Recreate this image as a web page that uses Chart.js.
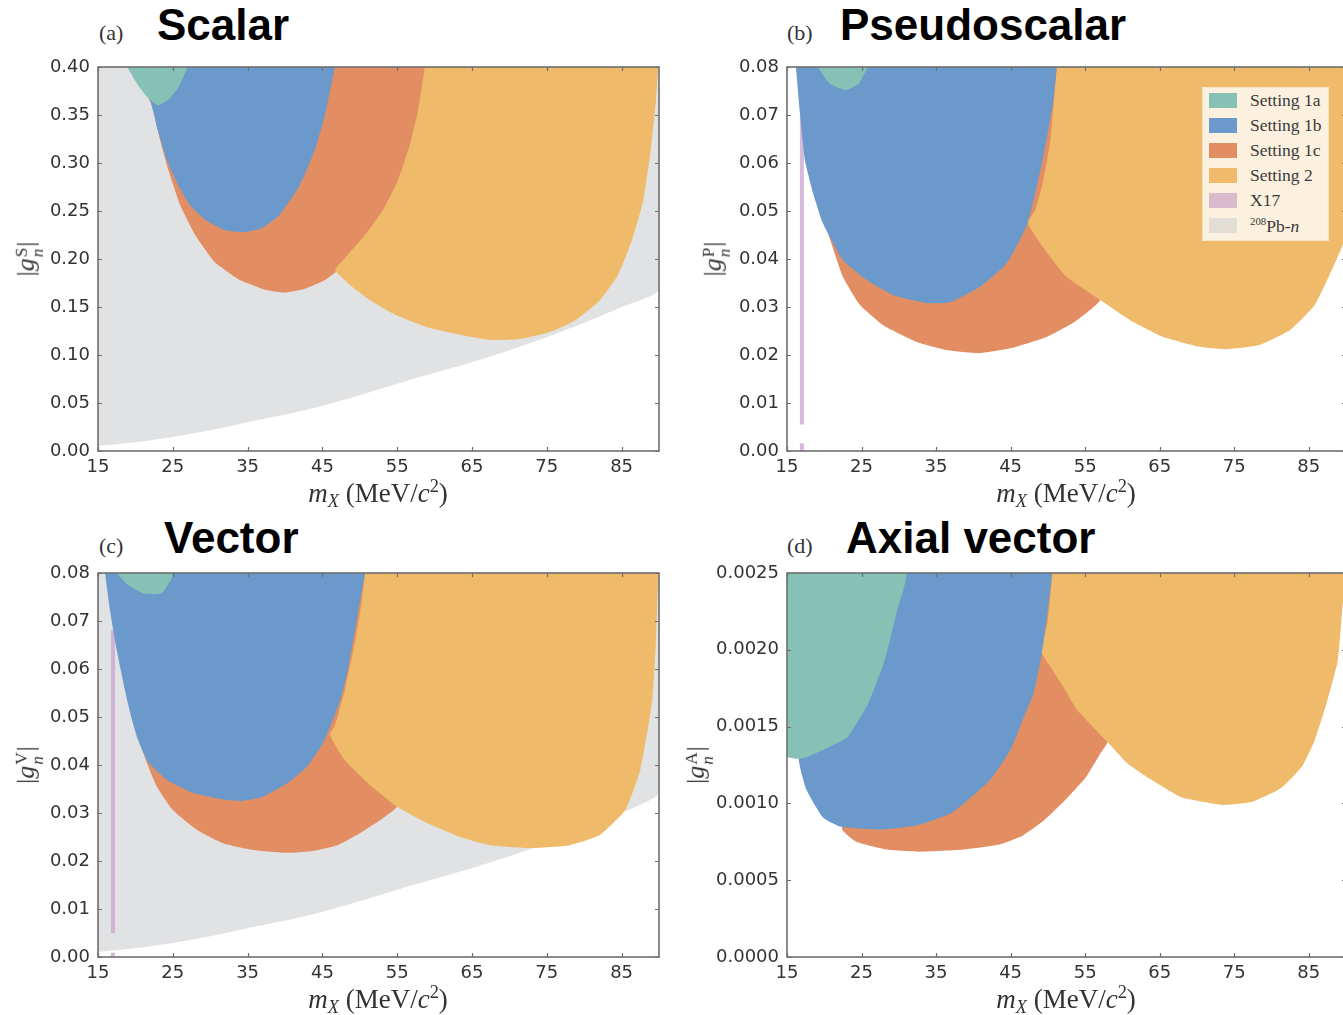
<!DOCTYPE html>
<html><head><meta charset="utf-8">
<script src="https://cdn.jsdelivr.net/npm/chart.js@4"></script>
<style>
html,body{margin:0;padding:0;background:#fff;}
body{width:1343px;height:1015px;overflow:hidden;position:relative;}
.panel{position:absolute;}
.ttl{position:absolute;white-space:nowrap;line-height:50px;}
.ttl .pl{display:inline-block;font-family:"Liberation Serif","DejaVu Serif",serif;font-size:22px;color:#333;}
.ttl .tt{font-family:"Liberation Sans",Arial,sans-serif;font-weight:bold;font-size:44px;color:#000;}
.ytitle{position:absolute;transform:translate(-50%,-50%) rotate(-90deg);font-family:"Liberation Serif",serif;font-size:26px;color:#333;white-space:nowrap;}
.ss{display:inline-flex;flex-direction:column;font-size:0.66em;line-height:0.92;vertical-align:0.42em;margin-left:1px;margin-right:1px;}
.xtitle{position:absolute;transform:translate(-50%,-50%);font-family:"Liberation Serif",serif;font-size:27px;color:#333;white-space:nowrap;}
.xtitle sub{font-size:0.68em;vertical-align:-0.3em;}
.xtitle sup{font-size:0.68em;vertical-align:0.55em;}
#legend{position:absolute;left:1202px;top:87px;width:127px;height:154px;background:#fcf0de;border:1px solid #f4e4c8;box-sizing:border-box;padding-top:0px;}
#legend .row{height:25px;display:flex;align-items:center;font-family:"Liberation Serif",serif;font-size:17.5px;color:#3a3a3a;}
#legend .sw{width:28px;height:15px;margin-left:6px;margin-right:13px;}
#legend sup{font-size:0.62em;vertical-align:0.6em;}
</style>
</head><body>

<div class="ttl" style="left:99px;top:0px;"><span class="pl" style="width:58px">(a)</span><span class="tt">Scalar</span></div>
<div class="ttl" style="left:787px;top:0px;"><span class="pl" style="width:53px">(b)</span><span class="tt">Pseudoscalar</span></div>
<div class="ttl" style="left:99px;top:513px;"><span class="pl" style="width:65px">(c)</span><span class="tt">Vector</span></div>
<div class="ttl" style="left:787px;top:513px;"><span class="pl" style="width:59px">(d)</span><span class="tt">Axial vector</span></div>

<div class="panel" style="left:0;top:55px;"><canvas id="cA" width="680" height="440"></canvas></div>
<div class="panel" style="left:690px;top:55px;"><canvas id="cB" width="700" height="440"></canvas></div>
<div class="panel" style="left:0;top:561px;"><canvas id="cC" width="680" height="440"></canvas></div>
<div class="panel" style="left:690px;top:561px;"><canvas id="cD" width="700" height="440"></canvas></div>

<div class="ytitle" style="left:28px;top:259px;">|<i>g</i><span class="ss"><span>S</span><i>n</i></span>|</div>
<div class="ytitle" style="left:715px;top:259px;">|<i>g</i><span class="ss"><span>P</span><i>n</i></span>|</div>
<div class="ytitle" style="left:28px;top:765px;">|<i>g</i><span class="ss"><span>V</span><i>n</i></span>|</div>
<div class="ytitle" style="left:698px;top:765px;">|<i>g</i><span class="ss"><span>A</span><i>n</i></span>|</div>

<div class="xtitle" style="left:378px;top:494px;"><i>m</i><sub><i>X</i></sub> (MeV/<i>c</i><sup>2</sup>)</div>
<div class="xtitle" style="left:1066px;top:494px;"><i>m</i><sub><i>X</i></sub> (MeV/<i>c</i><sup>2</sup>)</div>
<div class="xtitle" style="left:378px;top:1000px;"><i>m</i><sub><i>X</i></sub> (MeV/<i>c</i><sup>2</sup>)</div>
<div class="xtitle" style="left:1066px;top:1000px;"><i>m</i><sub><i>X</i></sub> (MeV/<i>c</i><sup>2</sup>)</div>

<div id="legend"></div>

<script>
// ---------- tick labels ----------
const xTicks = [15, 25, 35, 45, 55, 65, 75, 85];
const yTicksA = [0, 0.05, 0.10, 0.15, 0.20, 0.25, 0.30, 0.35, 0.40];
const yTicksBC = [0, 0.01, 0.02, 0.03, 0.04, 0.05, 0.06, 0.07, 0.08];
const yTicksD = [0, 0.0005, 0.0010, 0.0015, 0.0020, 0.0025];

// ---------- legend ----------
const legendLabels = ['Setting 1a', 'Setting 1b', 'Setting 1c', 'Setting 2', 'X17', '<sup>208</sup>Pb-<i>n</i>'];
const legendColors = ['#85c1b4', '#6c99cb', '#e28e62', '#efba6a', '#d8bccb', '#e2ddd5'];

// ---------- (a) Scalar : region boundaries [mX, |g|] ----------
const A_pb = [[15,0.005],[20,0.009],[25,0.0145],[30,0.0215],[35,0.030],[40,0.038],[45,0.047],[50,0.058],[55,0.070],[60,0.0815],[65,0.0925],[70,0.105],[75,0.1185],[80,0.1335],[85,0.150],[90,0.168],[90,0.40],[15,0.40]];
const A_1a = [[18.9,0.40],[20.35,0.381],[21.55,0.369],[23.0,0.360],[24.4,0.366],[25.7,0.378],[27.0,0.40]];
const A_1b = [[19.3,0.40],[21.95,0.366],[23.0,0.334],[24.2,0.303],[25.7,0.277],[27.3,0.256],[29.3,0.241],[32.0,0.230],[34.6,0.228],[36.9,0.232],[39.3,0.246],[42.0,0.277],[44.0,0.314],[45.35,0.35],[46.3,0.386],[46.7,0.40]];
const A_1c = [[19.5,0.40],[22.2,0.36],[23.3,0.324],[24.4,0.293],[26.0,0.256],[28.0,0.225],[30.6,0.197],[34.0,0.178],[37.3,0.168],[40.0,0.165],[42.7,0.169],[45.35,0.178],[48.0,0.194],[50.7,0.215],[53.4,0.246],[56.0,0.298],[58.1,0.355],[59.4,0.40]];
const A_2 = [[58.7,0.40],[57.8,0.355],[56.7,0.319],[55.1,0.282],[53.1,0.251],[50.7,0.225],[48.0,0.201],[46.7,0.1885],[48.7,0.173],[51.4,0.157],[54.7,0.142],[59.4,0.128],[64.1,0.120],[67.4,0.1156],[71.4,0.1167],[75.4,0.124],[78.8,0.136],[82.1,0.157],[84.5,0.183],[86.4,0.220],[87.9,0.261],[88.9,0.3135],[89.6,0.366],[89.9,0.40]];

// ---------- (b) Pseudoscalar ----------
const B_1a = [[19.16,0.08],[20.1,0.0777],[20.9,0.0763],[22.9,0.0752],[23.85,0.0758],[24.65,0.0765],[25.86,0.08]];
const B_1b = [[16.2,0.08],[16.74,0.0704],[17.4,0.0606],[18.5,0.0537],[19.8,0.0475],[22.5,0.0398],[25.7,0.0356],[29.2,0.0325],[33.8,0.0308],[36.9,0.031],[40.9,0.0342],[44.5,0.0391],[47.3,0.0475],[49.3,0.0606],[50.7,0.0725],[51.2,0.08]];
const B_1c = [[17.5,0.08],[18.1,0.0606],[19.2,0.0523],[20.8,0.044],[22.5,0.0363],[24.8,0.0304],[27.9,0.0262],[32.4,0.0227],[36.5,0.021],[40.9,0.0204],[45.3,0.0215],[49.9,0.0238],[53.4,0.0267],[56.0,0.0298],[57.0,0.0315],[54.3,0.0398],[52.6,0.0565],[52.0,0.08]];
const B_2 = [[51.2,0.08],[50.9,0.0746],[50.3,0.0642],[49.3,0.0558],[48.3,0.0502],[47.3,0.0475],[49.9,0.0413],[52.5,0.0363],[57.0,0.0315],[61.0,0.0273],[65.4,0.0238],[70.4,0.0217],[73.7,0.0212],[78.4,0.0221],[82.5,0.0252],[85.8,0.0304],[87.8,0.0367],[89.56,0.0429],[90,0.047],[90,0.08]];
const B_x17 = [[17,0.0055],[17,0.0705]];
const B_x17low = [[17,0],[17,0.0016]];

// ---------- (c) Vector ----------
const C_pb = [[15,0.001],[20,0.0018],[25,0.0029],[30,0.0043],[35,0.006],[40,0.0076],[45,0.0094],[50,0.0116],[55,0.014],[60,0.0163],[65,0.0185],[70,0.021],[75,0.0237],[80,0.0267],[85,0.030],[90,0.0342],[90,0.08],[15,0.08]];
const C_1a = [[17.5,0.08],[19.0,0.0775],[21.0,0.0758],[22.9,0.0756],[23.7,0.076],[24.9,0.079],[25.0,0.08]];
const C_1b = [[15.94,0.08],[16.6,0.0723],[17.5,0.064],[18.6,0.0556],[18.9,0.0535],[19.55,0.0494],[20.35,0.0452],[21.7,0.0406],[24.2,0.0369],[27.7,0.0342],[31.3,0.0329],[34.0,0.0325],[36.9,0.0333],[40.3,0.0362],[42.9,0.0396],[45.1,0.0446],[46.4,0.0494],[47.4,0.0535],[48.4,0.0598],[49.6,0.0702],[50.3,0.0765],[50.7,0.08]];
const C_1c = [[16.6,0.08],[17.1,0.0723],[18.2,0.064],[19.3,0.0535],[20.2,0.0467],[21.55,0.0404],[22.9,0.0354],[25.0,0.0306],[28.2,0.0265],[31.7,0.0237],[35.7,0.0223],[40.3,0.0217],[43.7,0.0221],[47.0,0.0233],[50.0,0.0258],[52.7,0.0285],[55.0,0.0313],[56.6,0.0369],[55.5,0.0535],[54.0,0.08]];
const C_2 = [[50.7,0.08],[50.3,0.0744],[49.4,0.066],[48.0,0.0556],[46.7,0.0483],[46.0,0.0463],[48.0,0.041],[51.4,0.0358],[55.0,0.0313],[59.0,0.0279],[63.4,0.025],[67.4,0.0233],[72.8,0.0227],[78.1,0.0233],[82.1,0.0254],[85.5,0.0306],[87.5,0.039],[89.1,0.0535],[89.6,0.066],[89.9,0.08]];
const C_x17 = [[17,0.005],[17,0.068]];
const C_x17low = [[17,0],[17,0.0009]];

// ---------- (d) Axial vector ----------
const D_1a = [[15,0.0025],[30.9,0.0025],[29.8,0.00226],[28.1,0.00193],[25.9,0.00165],[23.1,0.00143],[20.4,0.00136],[17.6,0.0013],[16.2,0.00129],[15,0.0013]];
const D_1b = [[16.5,0.0025],[16.6,0.00128],[17.6,0.00109],[19.8,0.00091],[22.1,0.00085],[27.7,0.00083],[32.7,0.00086],[37.2,0.00094],[42.2,0.00115],[45.0,0.00135],[46.6,0.00154],[48.1,0.00172],[49.2,0.00198],[50.0,0.00226],[50.6,0.0025]];
const D_1c = [[36.0,0.0025],[27.0,0.0016],[22.9,0.00098],[22.4,0.00083],[24.3,0.00075],[28.3,0.0007],[32.7,0.000686],[38.9,0.0007],[43.3,0.00073],[46.6,0.00079],[49.5,0.00089],[52.3,0.00102],[55.1,0.00117],[57.1,0.00133],[58.0,0.0014],[57.1,0.00167],[53.5,0.0020],[53.0,0.0025]];
const D_2 = [[50.6,0.0025],[50.0,0.00219],[49.2,0.00198],[50.6,0.00187],[52.3,0.00174],[53.9,0.00161],[58.0,0.0014],[60.7,0.00126],[64.0,0.00115],[67.9,0.00104],[73.5,0.00099],[77.4,0.00101],[81.3,0.0011],[84.1,0.00124],[85.8,0.00141],[87.5,0.00167],[88.9,0.00193],[89.5,0.00226],[90,0.0025]];

// ---------- styles ----------
const COL = {s1a:'#85c1b4', s1b:'#6c99cb', s1c:'#e28e62', s2:'#efba6a', x17:'rgba(200,160,205,0.72)', pb:'#e1e2e4'};

function region(pts, color){
  return {data: pts.map(p=>({x:p[0], y:p[1]})), showLine:true, fill:'shape', backgroundColor:color,
          borderWidth:0, borderColor:color, pointRadius:0, pointHoverRadius:0, tension:0.15};
}
function vline(pts, color){
  return {data: pts.map(p=>({x:p[0], y:p[1]})), showLine:true, fill:false, borderColor:color,
          borderWidth:4, borderCapStyle:'butt', pointRadius:0, pointHoverRadius:0, tension:0};
}

const framePlugin = {
  id:'frame',
  afterDatasetsDraw(chart){
    const {ctx, chartArea:a, scales:{x, y}} = chart;
    ctx.save();
    ctx.strokeStyle = '#6e6e6e';
    ctx.lineWidth = 1.2;
    ctx.beginPath();
    x.ticks.forEach(t=>{const p = Math.round(x.getPixelForValue(t.value))+0.5;
      ctx.moveTo(p, a.bottom); ctx.lineTo(p, a.bottom-4);
      ctx.moveTo(p, a.top); ctx.lineTo(p, a.top+4);});
    y.ticks.forEach(t=>{const p = Math.round(y.getPixelForValue(t.value))+0.5;
      ctx.moveTo(a.left, p); ctx.lineTo(a.left+4, p);
      ctx.moveTo(a.right, p); ctx.lineTo(a.right-4, p);});
    ctx.stroke();
    ctx.lineWidth = 1.6;
    ctx.strokeRect(a.left, a.top, a.right-a.left, a.bottom-a.top);
    ctx.restore();
  }
};

const tickFont = {family:'DejaVu Sans', size:18};

function makeChart(id, datasets, yMax, yTicks, dec, yWidth, padRight){
  new Chart(document.getElementById(id), {
    type:'scatter',
    data:{datasets},
    options:{
      responsive:false, animation:false, devicePixelRatio:1,
      layout:{padding:{top:12, right:padRight, left:0, bottom:0}},
      plugins:{legend:{display:false}, tooltip:{enabled:false}},
      scales:{
        x:{type:'linear', min:15, max:90,
           grid:{display:false, drawTicks:false}, border:{display:false},
           afterBuildTicks:(s)=>{ s.ticks = xTicks.map(v=>({value:v})); },
           afterFit:(s)=>{ s.height = 44; s.paddingLeft = 0; s.paddingRight = 0; },
           ticks:{autoSkip:false, maxRotation:0, padding:6, color:'#333',
                  font:tickFont, callback:(v)=>String(v)}},
        y:{type:'linear', min:0, max:yMax,
           grid:{display:false, drawTicks:false}, border:{display:false},
           afterBuildTicks:(s)=>{ s.ticks = yTicks.map(v=>({value:v})); },
           afterFit:(s)=>{ s.width = yWidth; s.paddingTop = 0; s.paddingBottom = 0; },
           ticks:{autoSkip:false, padding:8, color:'#333',
                  font:tickFont, callback:(v)=>Number(v).toFixed(dec)}}
      }
    },
    plugins:[framePlugin]
  });
}

// datasets listed top-most first (Chart.js draws index 0 last)
makeChart('cA', [
  region(A_1a, COL.s1a), region(A_1b, COL.s1b), region(A_2, COL.s2), region(A_1c, COL.s1c), region(A_pb, COL.pb)
], 0.40, yTicksA, 2, 98, 21);

makeChart('cB', [
  region(B_1a, COL.s1a), region(B_1b, COL.s1b), region(B_2, COL.s2), region(B_1c, COL.s1c),
  vline(B_x17, COL.x17), vline(B_x17low, COL.x17)
], 0.08, yTicksBC, 2, 97, 44);

makeChart('cC', [
  region(C_1a, COL.s1a), region(C_1b, COL.s1b), region(C_2, COL.s2), region(C_1c, COL.s1c),
  vline(C_x17, COL.x17), vline(C_x17low, COL.x17), region(C_pb, COL.pb)
], 0.08, yTicksBC, 2, 98, 21);

makeChart('cD', [
  region(D_1a, COL.s1a), region(D_1b, COL.s1b), region(D_2, COL.s2), region(D_1c, COL.s1c)
], 0.0025, yTicksD, 4, 97, 44);

// legend
const lg = document.getElementById('legend');
legendLabels.forEach((t,i)=>{
  const r = document.createElement('div'); r.className='row';
  r.innerHTML = '<div class="sw" style="background:'+legendColors[i]+'"></div><span>'+t+'</span>';
  lg.appendChild(r);
});
</script>
</body></html>
